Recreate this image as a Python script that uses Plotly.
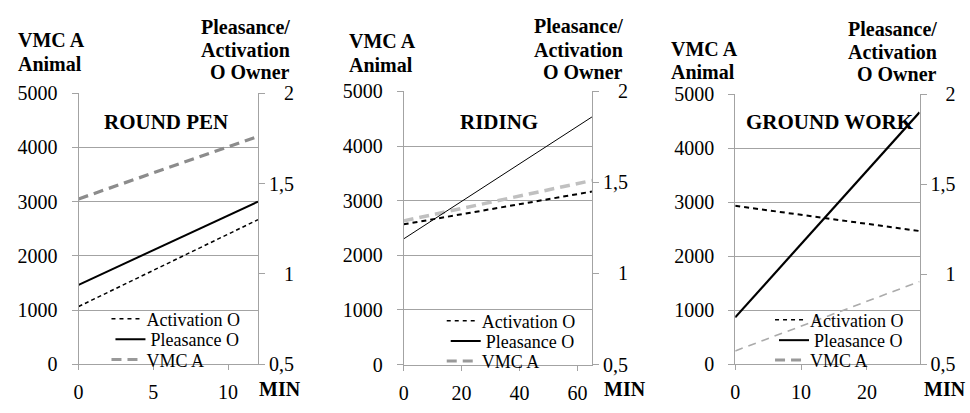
import plotly.graph_objects as go

# ---------------- data ----------------
panel_titles = ["ROUND PEN", "RIDING", "GROUND WORK"]
series_names = ["Activation O", "Pleasance O", "VMC A"]

minutes_round = [0, 12]
vmc_round = [3050, 4200]
pleasance_round = [0.94, 1.40]
activation_round = [0.82, 1.30]

minutes_riding = [0, 65]
vmc_riding = [2630, 3370]
pleasance_riding = [1.19, 1.86]
activation_riding = [1.27, 1.45]

minutes_ground = [0, 28]
vmc_ground = [245, 1530]
pleasance_ground = [0.76, 1.90]
activation_ground = [1.38, 1.24]

x_ranges = [[0, 12], [0, 65], [0, 28]]
x_tick_vals = [[0, 5, 10], [0, 20, 40, 60], [0, 10, 20]]
left_range = [0, 5000]
left_tick_vals = [0, 1000, 2000, 3000, 4000, 5000]
right_range = [0.5, 2]
right_tick_vals = [0.5, 1, 1.5, 2]
right_tick_text = ["0,5", "1", "1,5", "2"]

left_title_lines = ["VMC A", "Animal"]
right_title_lines = ["Pleasance/", "Activation", "O Owner"]
x_title = "MIN"

# ---------------- layout helpers ----------------
W, H = 970, 413
FONT = "Liberation Serif"
GRID = "#a3a3a3"


def fx(p):
    return p / W


def fy(p):
    return 1 - p / H


# pixel boxes of the three plot areas: (left, right, top, bottom)
boxes = [(74, 254.3, 86.7, 373.3), (400.7, 590, 85, 373.4), (734, 919.3, 88, 373)]

data_sets = [
    (minutes_round, vmc_round, pleasance_round, activation_round),
    (minutes_riding, vmc_riding, pleasance_riding, activation_riding),
    (minutes_ground, vmc_ground, pleasance_ground, activation_ground),
]

# line styles per panel: (vmc, pleasance, activation)
styles = [
    (dict(color="#8c8c8c", width=3.2, dash="10px,6px"),
     dict(color="black", width=2),
     dict(color="black", width=1.5, dash="4px,3px")),
    (dict(color="#c0c0c0", width=3.5, dash="10px,6px"),
     dict(color="black", width=1),
     dict(color="black", width=2, dash="5px,4px")),
    (dict(color="#ababab", width=1.6, dash="8px,6px"),
     dict(color="black", width=2.2),
     dict(color="black", width=2, dash="5px,4px")),
]
legend_styles = [
    dict(color="black", width=1.5, dash="4px,4px"),
    dict(color="black", width=2),
    dict(color="#999999", width=3, dash="10px,6px"),
]

# legend positions (left px, row centre px for activation/pleasance/vmc)
legend_x = [102, 439, 769]
legend_rows = [[325.5, 347, 368.5], [327.5, 349, 370], [326.5, 348, 369]]
legend_dx = [0, 4, 0]

# text positions (px)
left_title_x = [12, 345, 668]
left_title_y = [[31, 56], [32, 57], [40, 64]]
right_title_x = [287, 622, 938]
right_title_y = [[17, 41.5, 64.5], [16, 41, 64], [19, 43.5, 67]]
min_pos = [(276, 399), (623.5, 399), (945, 399)]
panel_title_pos = [(162, 117.5), (497, 117.5), (829, 117.5)]


def pad(t):
    # right-align the right-hand tick labels like the original
    return ("\u2007\u00a0" + t) if len(t) == 1 else t


def txt(text, x, y, anchor, size=20):
    return dict(text=f"<b>{text}</b>", x=fx(x), y=fy(y), xref="paper", yref="paper",
                xanchor=anchor, yanchor="middle", showarrow=False, borderpad=0,
                font=dict(family=FONT, size=size, color="black"))


fig = go.Figure()
layout = dict(
    width=W, height=H, autosize=False,
    margin=dict(l=0, r=0, t=0, b=0),
    paper_bgcolor="white", plot_bgcolor="white",
    font=dict(family=FONT, color="black", size=20),
    separators=",.",
    showlegend=True,
    annotations=[],
)

leg_counter = 1
for i, (box, ds, st) in enumerate(zip(boxes, data_sets, styles)):
    l, r, t, b = box
    xa = "x" if i == 0 else f"x{i + 1}"
    ya = "y" if i == 0 else f"y{2 * i + 1}"
    yb = f"y{2 * i + 2}"
    xkey = "xaxis" if i == 0 else f"xaxis{i + 1}"
    ykey = "yaxis" if i == 0 else f"yaxis{2 * i + 1}"
    ykey2 = f"yaxis{2 * i + 2}"

    layout[xkey] = dict(
        domain=[fx(l), fx(r)], anchor=ya, range=x_ranges[i],
        tickvals=x_tick_vals[i], ticks="outside", ticklen=5, tickcolor=GRID,
        showline=True, linecolor=GRID, linewidth=1, showgrid=False, zeroline=False,
        tickfont=dict(size=20, family=FONT, color="black"), fixedrange=True,
        ticklabelstandoff=5,
    )
    layout[ykey] = dict(
        domain=[fy(b), fy(t)], anchor=xa, range=left_range,
        tickvals=left_tick_vals, ticks="outside", ticklen=6, tickcolor=GRID,
        showline=True, linecolor=GRID, linewidth=1, showgrid=True, gridcolor=GRID,
        gridwidth=1, zeroline=False, tickfont=dict(size=20, family=FONT, color="black"),
        ticklabelstandoff=10, fixedrange=True,
    )
    layout[ykey2] = dict(
        overlaying=ya, side="right", anchor=xa, range=right_range,
        tickvals=right_tick_vals, ticktext=[pad(s) for s in right_tick_text],
        ticks="outside", ticklen=6, tickcolor=GRID, showline=True, linecolor=GRID,
        linewidth=1, showgrid=False, zeroline=False,
        tickfont=dict(size=20, family=FONT, color="black"), fixedrange=True,
    )

    minutes, vmc, pleas, activ = ds
    fig.add_trace(go.Scatter(x=minutes, y=vmc, mode="lines", line=st[0], xaxis=xa, yaxis=ya,
                             showlegend=False, name="VMC A", hoverinfo="skip"))
    fig.add_trace(go.Scatter(x=minutes, y=activ, mode="lines", line=st[2], xaxis=xa, yaxis=yb,
                             showlegend=False, name="Activation O", hoverinfo="skip"))
    fig.add_trace(go.Scatter(x=minutes, y=pleas, mode="lines", line=st[1], xaxis=xa, yaxis=yb,
                             showlegend=False, name="Pleasance O", hoverinfo="skip"))

    # legend rows (one legend per row so the row spacing matches the original)
    for j, name in enumerate(series_names):
        lk = "legend" if leg_counter == 1 else f"legend{leg_counter}"
        fig.add_trace(go.Scatter(x=[None], y=[None], mode="lines", line=legend_styles[j],
                                 name=name, legend=lk, xaxis=xa, yaxis=ya, showlegend=True))
        layout[lk] = dict(
            x=fx(legend_x[i] + legend_dx[j]), y=fy(legend_rows[i][j]),
            xanchor="left", yanchor="middle", bgcolor="rgba(0,0,0,0)", borderwidth=0,
            font=dict(family=FONT, size=18, color="black"),
        )
        leg_counter += 1

    # texts
    for line, yy in zip(left_title_lines, left_title_y[i]):
        layout["annotations"].append(txt(line, left_title_x[i], yy, "left"))
    for line, yy in zip(right_title_lines, right_title_y[i]):
        layout["annotations"].append(txt(line, right_title_x[i], yy, "right"))
    mx, myy = min_pos[i]
    layout["annotations"].append(txt(x_title, mx, myy, "center"))
    px_, py_ = panel_title_pos[i]
    layout["annotations"].append(txt(panel_titles[i], px_, py_, "center", size=21))

fig.update_layout(**layout)
fig.write_html(
    "out.html",
    post_script="document.body.style.margin='0';document.body.style.padding='0';"
                "document.body.style.overflow='hidden';",
)
